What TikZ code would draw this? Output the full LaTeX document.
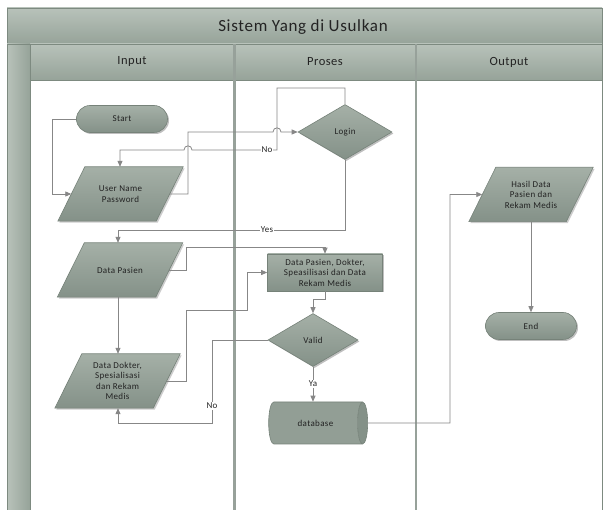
\documentclass[tikz,border=0pt]{standalone}
\usepackage{fontspec}
\setmainfont{Carlito}[LetterSpace=4]
\usetikzlibrary{shapes.geometric,arrows.meta,calc,shadows}
\pgfdeclarelayer{back}
\pgfdeclarelayer{bg}
\pgfsetlayers{back,bg,main}
\definecolor{shp}{RGB}{146,158,149}
\definecolor{shpTop}{RGB}{165,176,167}
\definecolor{shpBot}{RGB}{132,145,136}
\definecolor{shpLine}{RGB}{118,130,121}
\definecolor{bandTop}{RGB}{184,194,186}
\definecolor{bandBot}{RGB}{150,163,153}
\definecolor{frameLine}{RGB}{125,138,128}
\definecolor{conn}{RGB}{135,135,135}
\definecolor{txt}{RGB}{35,35,35}
\tikzset{
  x=1pt,y=-1pt,
  every node/.style={font=\fontsize{9}{10.5}\selectfont, text=txt},
  shapefill/.style={top color=shpTop,bottom color=shpBot,draw=shpLine,line width=0.6pt},
  shadowed/.style={drop shadow={shadow xshift=1.5pt,shadow yshift=-1.5pt,opacity=0.25,fill=black}},
  term/.style={shapefill,shadowed,rectangle,rounded corners=13.5pt,minimum width=91pt,minimum height=27pt,inner sep=0pt},
  iotext/.style={rectangle,minimum width=125pt,minimum height=54pt,inner sep=0pt,align=center},
  proc/.style={shapefill,shadowed,rectangle,minimum width=115pt,minimum height=37pt,inner sep=0pt,align=center},
  decis/.style={shapefill,shadowed,diamond,minimum width=94pt,minimum height=55pt,inner sep=0pt,aspect=1.7},
  dbase/.style={cylinder,draw=shpLine,line width=0.6pt,cylinder uses custom fill,cylinder body fill=shp,cylinder end fill=shpBot,shape aspect=1.6,minimum width=42pt,minimum height=99pt,inner sep=0pt},
  conn/.style={draw=conn,line width=0.8pt,-{Triangle[length=6pt,width=5pt]}},
  lbl/.style={fill=white,inner sep=0.8pt,font=\fontsize{9}{10}\selectfont},
  band/.style={top color=bandTop,bottom color=bandBot,draw=frameLine,line width=0.6pt},
}
\newcommand{\parallelo}[1]{%
  \begin{pgfonlayer}{bg}
    \fill[black,opacity=0.2] ($(#1.north west)+(28.5,1.5)$) -- ($(#1.north east)+(1.5,1.5)$) -- ($(#1.south east)+(-25.5,1.5)$) -- ($(#1.south west)+(1.5,1.5)$) -- cycle;
    \path[shapefill] ($(#1.north west)+(27,0)$) -- (#1.north east) -- ($(#1.south east)+(-27,0)$) -- (#1.south west) -- cycle;
  \end{pgfonlayer}}
\begin{document}
\begin{tikzpicture}
\useasboundingbox (0,0) rectangle (603,510);
\begin{pgfonlayer}{back}
\fill[white] (0,0) rectangle (603,510);
\end{pgfonlayer}
% frame
\path[band] (7,8) rectangle (602,44);
\path[band] (30,44) rectangle (602,80);
\path[left color=bandTop,right color=bandBot,draw=frameLine,line width=0.6pt] (7,44) rectangle (30,512);
\draw[frameLine,line width=0.6pt] (30,80) -- (30,512);
\draw[frameLine!80!white,line width=2.6pt] (234.5,44) -- (234.5,512);
\draw[frameLine!80!white,line width=2.6pt] (416,44) -- (416,512);
\draw[frameLine,line width=0.6pt] (602,8) -- (602,512);
\node[font=\fontsize{17}{20}\selectfont] (title) at (303,27) {Sistem Yang di Usulkan};
\node[font=\fontsize{12.5}{14}\selectfont] (hin) at (132,62) {Input};
\node[font=\fontsize{12.5}{14}\selectfont] (hpr) at (325,62) {Proses};
\node[font=\fontsize{12.5}{14}\selectfont] (hout) at (509,62) {Output};
% nodes
\node[term] (start) at (122,119) {Start};
\node[iotext] (user) at (120.5,194) {User Name\\Password};
\node[decis] (login) at (345,132) {Login};
\node[iotext] (pasien) at (120,270) {Data Pasien};
\node[iotext] (dokter) at (117.5,381) {Data Dokter,\\Spesialisasi\\dan Rekam\\Medis};
\node[proc] (proc) at (325,272.5) {Data Pasien, Dokter,\\Speasilisasi dan Data\\Rekam Medis};
\node[decis,minimum width=90pt,minimum height=53pt] (valid) at (313,340) {Valid};
\node[dbase] (db) at (315.5,423) {database};
\node[iotext,minimum width=124pt] (hasil) at (531,194.5) {Hasil Data\\Pasien dan\\Rekam Medis};
\node[term] (end) at (531,326) {End};
\parallelo{user}
\parallelo{pasien}
\parallelo{dokter}
\parallelo{hasil}
% connectors
\draw[conn] (start.west) -- (52,119) -- (52,194) -- ($(user.west)+(13.5,0)$);
\draw[conn] ($(user.east)+(-13.5,0)$) -- (188,194) -- (188,132) -- (273,132) .. controls (273,126.5) and (281,126.5) .. (281,132) -- (login.west);
\draw[conn] (login.north) -- (345,88) -- (277,88) -- (277,150) -- (192,150) .. controls (192,144.5) and (184,144.5) .. (184,150) -- (120,150) -- (user.north -| 120,0);
\node[lbl] (no1) at (267,150) {No};
\draw[conn] (login.south) -- (345,230) -- (118,230) -- (pasien.north -| 118,0);
\node[lbl] (yes) at (267,230) {Yes};
\draw[conn] ($(pasien.east)+(-13.5,0)$) -- (186,270) -- (186,247) -- (325,247) -- (proc.north);
\draw[conn] (pasien.south -| 118,0) -- (dokter.north -| 118,0);
\draw[conn] ($(dokter.east)+(-13.5,0)$) -- (186,381) -- (186,310) -- (247,310) -- (247,272.5) -- (proc.west);
\draw[conn] (proc.south) -- (325,299) -- (313,299) -- (valid.north);
\draw[conn] (valid.west) -- (212,340) -- (212,423) -- (118,423) -- (dokter.south -| 118,0);
\node[lbl] (no2) at (212,406) {No};
\draw[conn] (valid.south) -- (db.north -| valid.south);
\node[lbl] (ya) at (313,384) {Ya};
\draw[conn] (db.east) -- (450,423) -- (450,194.5) -- ($(hasil.west)+(13.5,0)$);
\draw[conn] (hasil.south -| end.north) -- (end.north);
\end{tikzpicture}
\end{document}
